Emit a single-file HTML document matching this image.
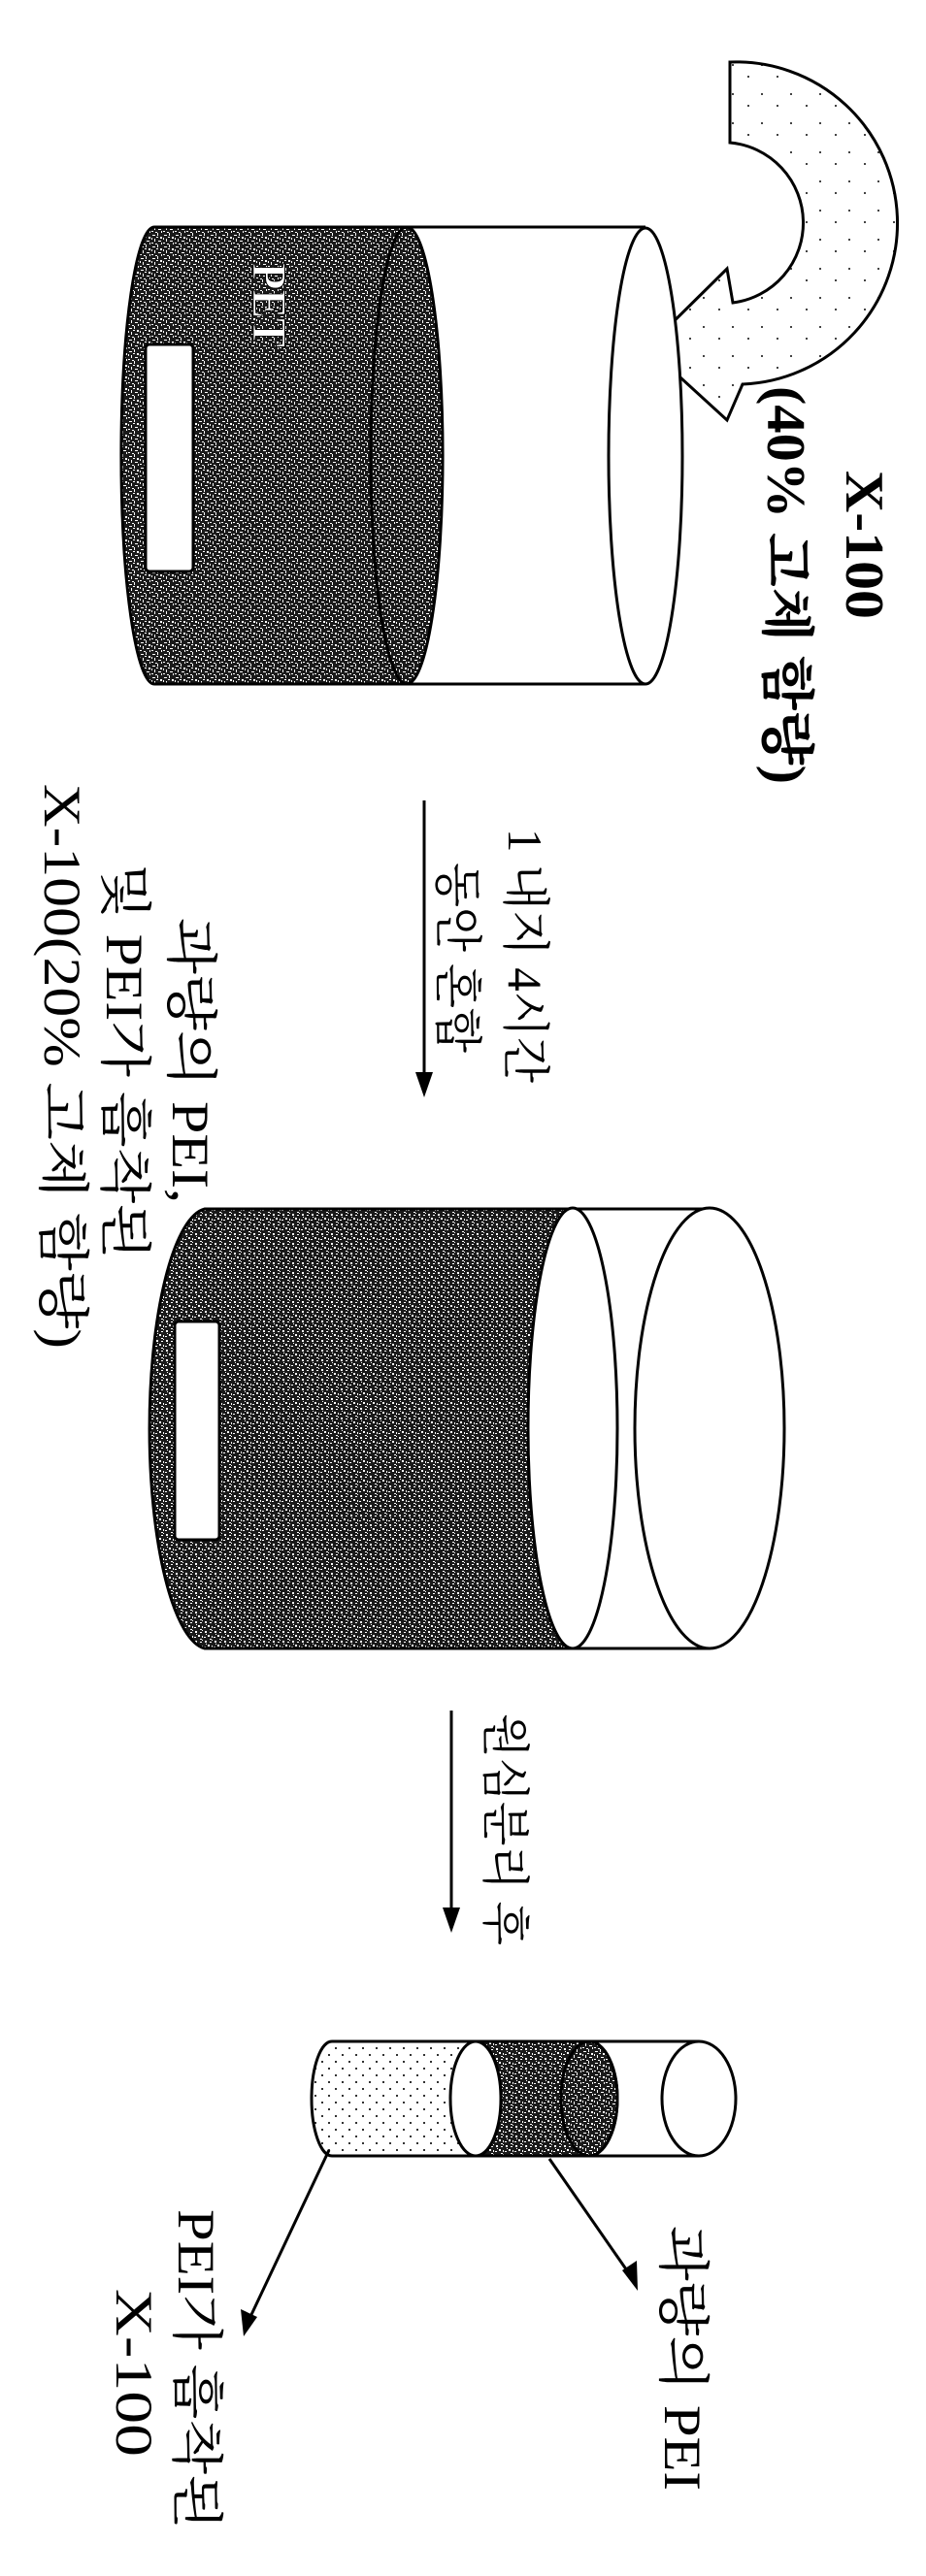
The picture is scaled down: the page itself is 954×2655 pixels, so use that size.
<!DOCTYPE html>
<html><head><meta charset="utf-8"><style>html,body{margin:0;padding:0;background:#fff}svg{display:block}</style></head>
<body>
<svg width="954" height="2655" viewBox="0 0 954 2655" xmlns="http://www.w3.org/2000/svg">
<defs>
<pattern id="d1" width="12" height="12" patternUnits="userSpaceOnUse">
<rect width="12" height="12" fill="#1a1a1a"/>
<rect x="1" y="2" width="3" height="1" fill="#fff"/><rect x="6" y="0" width="1" height="3" fill="#fff"/>
<rect x="9" y="4" width="2" height="2" fill="#fff"/><rect x="3" y="6" width="1" height="3" fill="#fff"/>
<rect x="7" y="8" width="3" height="1" fill="#fff"/><rect x="0" y="10" width="2" height="1" fill="#fff"/>
<rect x="10" y="10" width="1" height="2" fill="#fff"/><rect x="5" y="4" width="2" height="1" fill="#fff"/>
<rect x="4" y="11" width="2" height="1" fill="#fff"/><rect x="0" y="5" width="1" height="2" fill="#fff"/>
</pattern>
<pattern id="d2" width="10" height="10" patternUnits="userSpaceOnUse">
<rect width="10" height="10" fill="#1a1a1a"/>
<rect x="1" y="1" width="2" height="2" fill="#fff"/><rect x="6" y="2" width="2" height="1" fill="#fff"/>
<rect x="4" y="5" width="2" height="2" fill="#fff"/><rect x="8" y="6" width="1" height="2" fill="#fff"/>
<rect x="0" y="7" width="2" height="1" fill="#fff"/><rect x="6" y="9" width="2" height="1" fill="#fff"/>
<rect x="8" y="0" width="1" height="1" fill="#fff"/><rect x="2" y="4" width="1" height="1" fill="#fff"/>
</pattern>
<pattern id="lt" width="14" height="14" patternUnits="userSpaceOnUse">
<rect width="14" height="14" fill="#fff"/>
<rect x="2" y="3" width="2" height="2" fill="#333"/><rect x="9" y="10" width="2" height="2" fill="#333"/>
</pattern>
<pattern id="sp" width="30" height="30" patternUnits="userSpaceOnUse">
<rect width="30" height="30" fill="#fff"/>
<rect x="4" y="6" width="2" height="2" fill="#444"/><rect x="20" y="18" width="2" height="2" fill="#444"/>
</pattern>
</defs>
<g stroke="#000" stroke-width="3" fill="none">
<path d="M752,64 A166,166 0 0 1 765,396 L749,433 L667,358 L749,277 L755,312 A83,83 0 0 0 752,147 Z" fill="url(#sp)"/>
<path d="M159,234 L665,234 L665,705 L159,705 Z" fill="#fff" stroke="none"/>
<line x1="159" y1="234" x2="665" y2="234"/><line x1="159" y1="705" x2="665" y2="705"/>
<ellipse cx="665" cy="470" rx="38" ry="235" fill="#fff"/>
<path d="M159,234 L419,234 A37,235 0 0 1 419,705 L159,705 A34,235 0 0 1 159,234 Z" fill="url(#d1)"/>
<path d="M419,234 A37,235 0 0 0 419,705"/>
<rect x="150" y="355" width="49" height="234" rx="4" fill="#fff"/>
<line x1="437" y1="825" x2="437" y2="1110"/>
<line x1="211" y1="1246" x2="731" y2="1246"/><line x1="211" y1="1699" x2="731" y2="1699"/>
<ellipse cx="731" cy="1472" rx="77" ry="227" fill="#fff"/>
<path d="M211,1246 L590,1246 A46,227 0 0 0 590,1699 L211,1699 A61,227 0 0 1 211,1246 Z" fill="url(#d2)"/>
<ellipse cx="590" cy="1472" rx="46" ry="227" fill="#fff"/>
<rect x="180" y="1362" width="46" height="225" rx="4" fill="#fff"/>
<line x1="465" y1="1763" x2="465" y2="1972"/>
<line x1="342" y1="2104" x2="720" y2="2104"/><line x1="342" y1="2222" x2="720" y2="2222"/>
<ellipse cx="720" cy="2163" rx="38" ry="59" fill="#fff"/>
<path d="M342,2104 L490,2104 L490,2222 L342,2222 A21,59 0 0 1 342,2104 Z" fill="url(#lt)"/>
<path d="M490,2104 L607,2104 A29,59 0 0 1 607,2222 L490,2222 A26,59 0 0 0 490,2104 Z" fill="url(#d2)"/>
<ellipse cx="607" cy="2163" rx="29" ry="59" fill="url(#d1)"/>
<ellipse cx="490" cy="2163" rx="26" ry="59" fill="#fff"/>
<line x1="339" y1="2216" x2="256" y2="2392"/>
<line x1="566" y1="2225" x2="650" y2="2346"/>
</g>
<g fill="#000">
<polygon points="437,1131 428,1105 446,1105"/>
<polygon points="465,1992 456,1966 474,1966"/>
<polygon points="251,2408 248,2380 265,2388"/>
<polygon points="657,2361 641,2340 656,2330"/>
</g>
<g font-family="'Liberation Serif','Noto Serif CJK KR','Noto Sans CJK KR',serif" fill="#000" dominant-baseline="central">
<text transform="translate(278,271) rotate(90)" font-size="50" font-weight="bold" fill="#fff" stroke="#000" stroke-width="1" textLength="87" lengthAdjust="spacingAndGlyphs">PET</text>
<text transform="translate(890,485) rotate(90)" font-size="56" font-weight="bold" textLength="153" lengthAdjust="spacingAndGlyphs">X-100</text>
<text transform="translate(809,398) rotate(90)" font-size="56" font-weight="bold" textLength="410" lengthAdjust="spacingAndGlyphs">(40% 고체 함량)</text>
<text transform="translate(541,854) rotate(90)" font-size="50" textLength="262" lengthAdjust="spacingAndGlyphs">1 내지 4시간</text>
<text transform="translate(471,889) rotate(90)" font-size="50" textLength="196" lengthAdjust="spacingAndGlyphs">동안 혼합</text>
<text transform="translate(196,946) rotate(90)" font-size="54" textLength="294" lengthAdjust="spacingAndGlyphs">과량의 PEI,</text>
<text transform="translate(128,890) rotate(90)" font-size="54" textLength="408" lengthAdjust="spacingAndGlyphs">및 PEI가 흡착된</text>
<text transform="translate(64,808) rotate(90)" font-size="54" textLength="582" lengthAdjust="spacingAndGlyphs">X-100(20% 고체 함량)</text>
<text transform="translate(520,1766) rotate(90)" font-size="50" textLength="239" lengthAdjust="spacingAndGlyphs">원심분리 후</text>
<text transform="translate(703,2294) rotate(90)" font-size="54" textLength="273" lengthAdjust="spacingAndGlyphs">과량의 PEI</text>
<text transform="translate(202,2277) rotate(90)" font-size="54" textLength="330" lengthAdjust="spacingAndGlyphs">PEI가 흡착된</text>
<text transform="translate(138,2359) rotate(90)" font-size="54" textLength="173" lengthAdjust="spacingAndGlyphs">X-100</text>
</g>
</svg>
</body></html>
